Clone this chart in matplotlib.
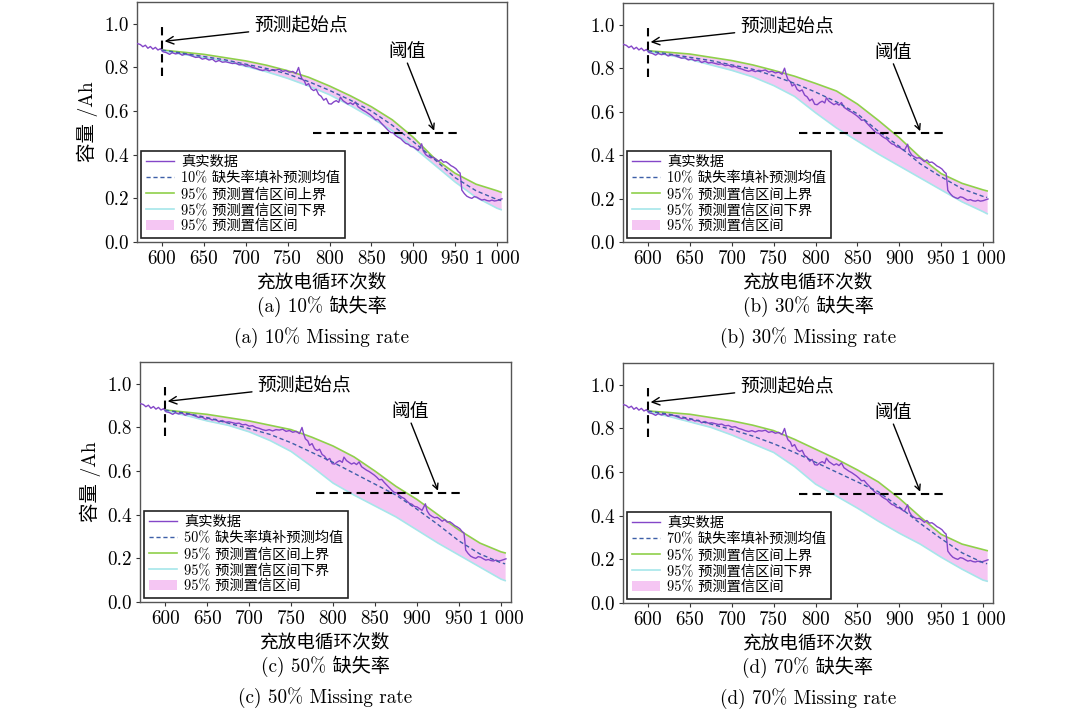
import matplotlib
matplotlib.use("Agg")
import matplotlib.pyplot as plt
import numpy as np

plt.rcParams['font.family'] = ['cmr10', 'Noto Sans CJK SC', 'DejaVu Sans']
plt.rcParams['axes.formatter.use_mathtext'] = True
plt.rcParams['axes.unicode_minus'] = False

# ---- true capacity data (shared by all panels) ----
true_cycles = [570, 574, 577, 580, 583, 586, 589, 592, 595, 598, 601, 605, 609, 612, 616, 620, 624, 628,
               632, 636, 640, 644, 648, 652, 656, 660, 664, 668, 672, 676, 680, 684, 688, 692, 696, 700,
               704, 708, 712, 716, 720, 724, 728, 732, 736, 740, 744, 748, 752, 756, 760, 763, 765, 767,
               770, 772, 775, 778, 781, 784, 787, 790, 793, 796, 799, 802, 805, 808, 811, 813, 816, 819,
               822, 825, 828, 831, 834, 837, 840, 843, 846, 849, 852, 855, 858, 861, 864, 867, 870, 873,
               876, 879, 882, 885, 888, 891, 894, 897, 900, 903, 906, 909, 910, 912, 915, 918, 921, 924,
               927, 930, 933, 936, 939, 942, 945, 948, 951, 954, 956, 957, 958, 961, 964, 967, 970, 973,
               976, 979, 982, 985, 988, 991, 994, 997, 1000, 1003, 1006]
true_capacity = [0.910, 0.905, 0.895, 0.902, 0.888, 0.896, 0.884, 0.892, 0.880, 0.886, 0.872, 0.868, 0.860,
                 0.868, 0.862, 0.866, 0.856, 0.862, 0.858, 0.852, 0.846, 0.848, 0.838, 0.842, 0.834, 0.838,
                 0.826, 0.832, 0.824, 0.826, 0.822, 0.818, 0.820, 0.812, 0.814, 0.806, 0.808, 0.800, 0.796,
                 0.790, 0.786, 0.790, 0.784, 0.790, 0.788, 0.792, 0.782, 0.786, 0.778, 0.782, 0.772, 0.800,
                 0.770, 0.748, 0.738, 0.718, 0.726, 0.702, 0.694, 0.700, 0.676, 0.668, 0.650, 0.658, 0.634,
                 0.632, 0.642, 0.648, 0.640, 0.664, 0.648, 0.640, 0.632, 0.638, 0.630, 0.642, 0.620, 0.612,
                 0.604, 0.598, 0.590, 0.582, 0.572, 0.560, 0.562, 0.548, 0.536, 0.524, 0.512, 0.502, 0.500,
                 0.488, 0.480, 0.474, 0.462, 0.452, 0.448, 0.438, 0.436, 0.428, 0.420, 0.442, 0.450, 0.418,
                 0.400, 0.392, 0.386, 0.388, 0.380, 0.370, 0.378, 0.366, 0.368, 0.360, 0.350, 0.344, 0.336,
                 0.322, 0.316, 0.280, 0.238, 0.222, 0.210, 0.204, 0.200, 0.208, 0.205, 0.198, 0.192, 0.195,
                 0.190, 0.188, 0.192, 0.188, 0.190, 0.194, 0.198]

# ---- prediction grid ----
pred_cycles = [600, 625, 650, 675, 700, 725, 750, 775, 800, 825, 850, 875, 900, 925, 950, 975, 1000, 1005]

mean_a = [0.880, 0.865, 0.850, 0.835, 0.815, 0.795, 0.770, 0.735, 0.695, 0.650, 0.600, 0.535, 0.460, 0.380, 0.295, 0.235, 0.195, 0.190]
upper_a = [0.880, 0.870, 0.860, 0.845, 0.830, 0.810, 0.785, 0.755, 0.715, 0.670, 0.620, 0.560, 0.480, 0.385, 0.315, 0.265, 0.235, 0.228]
lower_a = [0.875, 0.860, 0.845, 0.830, 0.805, 0.780, 0.750, 0.715, 0.675, 0.625, 0.570, 0.510, 0.435, 0.355, 0.275, 0.205, 0.155, 0.148]

mean_b = [0.880, 0.865, 0.850, 0.835, 0.815, 0.795, 0.765, 0.730, 0.690, 0.645, 0.590, 0.510, 0.440, 0.360, 0.300, 0.245, 0.210, 0.205]
upper_b = [0.880, 0.873, 0.865, 0.850, 0.835, 0.815, 0.790, 0.763, 0.730, 0.695, 0.635, 0.560, 0.480, 0.390, 0.315, 0.270, 0.240, 0.235]
lower_b = [0.875, 0.860, 0.840, 0.815, 0.790, 0.760, 0.720, 0.670, 0.595, 0.525, 0.465, 0.405, 0.350, 0.295, 0.240, 0.185, 0.140, 0.130]

mean_c = [0.880, 0.865, 0.845, 0.820, 0.795, 0.768, 0.730, 0.685, 0.640, 0.590, 0.540, 0.490, 0.425, 0.355, 0.280, 0.220, 0.180, 0.175]
upper_c = [0.880, 0.870, 0.860, 0.845, 0.830, 0.810, 0.790, 0.755, 0.715, 0.665, 0.600, 0.530, 0.470, 0.400, 0.330, 0.270, 0.230, 0.225]
lower_c = [0.875, 0.855, 0.830, 0.810, 0.780, 0.740, 0.690, 0.620, 0.545, 0.490, 0.440, 0.390, 0.330, 0.270, 0.215, 0.160, 0.105, 0.098]

mean_d = [0.880, 0.865, 0.845, 0.820, 0.795, 0.765, 0.730, 0.690, 0.645, 0.600, 0.555, 0.510, 0.440, 0.365, 0.295, 0.230, 0.185, 0.180]
upper_d = [0.880, 0.873, 0.865, 0.850, 0.835, 0.815, 0.790, 0.750, 0.705, 0.660, 0.610, 0.555, 0.480, 0.395, 0.315, 0.270, 0.245, 0.240]
lower_d = [0.875, 0.855, 0.830, 0.805, 0.770, 0.730, 0.690, 0.625, 0.545, 0.490, 0.435, 0.375, 0.320, 0.270, 0.210, 0.155, 0.105, 0.100]

panel_letters = ['a', 'b', 'c', 'd']
missing_titles = ['10%', '30%', '50%', '70%']
legend_rates = ['10%', '10%', '50%', '70%']
means = [mean_a, mean_b, mean_c, mean_d]
uppers = [upper_a, upper_b, upper_c, upper_d]
lowers = [lower_a, lower_b, lower_c, lower_d]

xticks = [600, 650, 700, 750, 800, 850, 900, 950, 1000]
xtick_labels = ['600', '650', '700', '750', '800', '850', '900', '950', '1 000']
yticks = [0.0, 0.2, 0.4, 0.6, 0.8, 1.0]
ytick_labels = ['0.0', '0.2', '0.4', '0.6', '0.8', '1.0']

W, H = 1080, 710
fig = plt.figure(figsize=(10.8, 7.1), dpi=100)
# axes boxes in pixels: (left, top, right, bottom)
boxes = [(137, 2, 507, 242), (623, 3, 993, 242), (140, 362, 511, 602), (623, 363, 993, 603)]

c_true = '#8446c8'
c_mean = '#3d5fa8'
c_up = '#8fd04a'
c_low = '#a6e6ea'
c_fill = '#f2b4f0'

for i, (l, t, r, b) in enumerate(boxes):
    ax = fig.add_axes([l / W, 1 - b / H, (r - l) / W, (b - t) / H])
    ax.fill_between(pred_cycles, lowers[i], uppers[i], color=c_fill, alpha=0.75, lw=0,
                    label='95% 预测置信区间', zorder=1)
    ax.plot(pred_cycles, uppers[i], color=c_up, lw=1.2, label='95% 预测置信区间上界', zorder=2)
    ax.plot(pred_cycles, lowers[i], color=c_low, lw=1.2, label='95% 预测置信区间下界', zorder=2)
    ax.plot(true_cycles, true_capacity, color=c_true, lw=1.0, label='真实数据', zorder=3)
    ax.plot(pred_cycles, means[i], color=c_mean, lw=1.0, ls=(0, (3, 2)),
            label=legend_rates[i] + ' 缺失率填补预测均值', zorder=4)

    # start-of-prediction marker and threshold
    ax.plot([600, 600], [0.76, 1.0], color='black', lw=1.5, ls=(0, (4, 2.5)), zorder=5)
    ax.plot([780, 956], [0.5, 0.5], color='black', lw=1.5, ls=(0, (4, 2.5)), zorder=5)
    ax.annotate('预测起始点', xy=(603, 0.92), xytext=(710, 0.99), fontsize=13.5,
                va='center', ha='left',
                arrowprops=dict(arrowstyle='->', color='black', lw=1.0, shrinkA=2, shrinkB=0))
    ax.text(870, 0.87, '阈值', fontsize=13.5, ha='left', va='center')
    ax.annotate('', xy=(925, 0.51), xytext=(893, 0.82),
                arrowprops=dict(arrowstyle='->', color='black', lw=1.0, shrinkA=0, shrinkB=0))

    ax.set_xlim(570, 1012)
    ax.set_ylim(0, 1.1)
    ax.set_xticks(xticks)
    ax.set_xticklabels(xtick_labels, fontsize=13.8)
    ax.set_yticks(yticks)
    ax.set_yticklabels(ytick_labels, fontsize=13.8)
    ax.tick_params(direction='out', length=3, width=0.8, pad=3, color='#333333')
    for s in ax.spines.values():
        s.set_color('#555555')
        s.set_linewidth(1.0)
    ax.set_xlabel('充放电循环次数', fontsize=13.4, labelpad=3)
    if i in (0, 2):
        ax.set_ylabel('容量 /Ah', fontsize=14, labelpad=4)

    handles, labels = ax.get_legend_handles_labels()
    order = [3, 4, 1, 2, 0]
    leg = ax.legend([handles[k] for k in order], [labels[k] for k in order],
                    loc='lower left', fontsize=10.3, frameon=True, fancybox=False,
                    edgecolor='#222222', framealpha=1, borderaxespad=0.3,
                    handlelength=2.0, handletextpad=0.5, labelspacing=0.16, borderpad=0.3)
    leg.get_frame().set_linewidth(1.2)

    cx = (l + r) / 2 / W
    fig.text(cx, 1 - (b + 64) / H, '(%s) %s 缺失率' % (panel_letters[i], missing_titles[i]),
             ha='center', va='center', fontsize=13.8)
    fig.text(cx, 1 - (b + 96) / H, '(%s) %s Missing rate' % (panel_letters[i], missing_titles[i]),
             ha='center', va='center', fontsize=13.8)

fig.savefig('out.png', dpi=100)
